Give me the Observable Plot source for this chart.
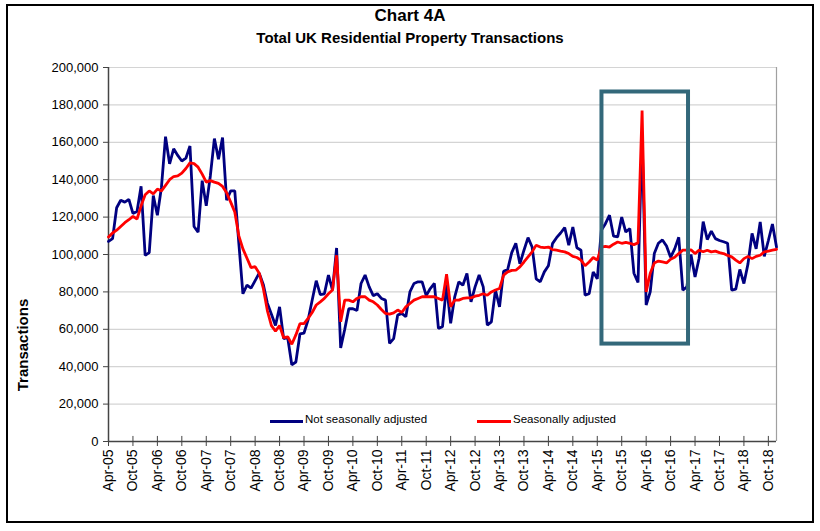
<!DOCTYPE html>
<html>
<head>
<meta charset="utf-8">
<script src="https://cdn.jsdelivr.net/npm/d3@7"></script>
<script src="https://cdn.jsdelivr.net/npm/@observablehq/plot@0.6"></script>
<style>
  html, body { margin: 0; padding: 0; background: #fff; }
  #wrap { position: relative; width: 820px; height: 531px; font-family: "Liberation Sans", Arial, sans-serif; color: #000; }
  .frame { position: absolute; left: 6px; top: 4px; width: 804px; height: 515px; border: 2px solid #000; }
  .title { position: absolute; left: 0; width: 820px; text-align: center; font-weight: bold; }
  #chart { position: absolute; left: 0; top: 50px; }
  .ytitle { position: absolute; left: 22px; top: 345px; transform: translate(-50%, -50%) rotate(-90deg); font-weight: bold; font-size: 15px; white-space: nowrap; }
  .leg { position: absolute; font-size: 11.5px; white-space: nowrap; }
  .sw { position: absolute; height: 3px; }
</style>
</head>
<body>
<div id="wrap">
  <div class="frame"></div>
  <div class="title" style="top:6px;font-size:17px;">Chart 4A</div>
  <div class="title" style="top:29px;font-size:15px;">Total UK Residential Property Transactions</div>
  <div id="chart"></div>
  <div class="ytitle">Transactions</div>
  <div class="sw" style="left:270px;top:420px;width:33px;background:#000080;"></div>
  <div class="leg" style="left:305px;top:413px;">Not seasonally adjusted</div>
  <div class="sw" style="left:477px;top:420px;width:34px;background:#ff0000;"></div>
  <div class="leg" style="left:513px;top:413px;">Seasonally adjusted</div>
</div>
<script>
// Monthly, Apr-05 ... Dec-18
const notSeasonallyAdjusted = [
  107000,108500,125000,129000,128000,129500,122000,123000,136500,99500,
  101000,131500,121000,136000,163000,148500,156500,153000,150000,151500,
  158000,115000,112000,139500,126000,142000,162000,151000,162500,129000,
  134000,134000,106000,79000,83600,82000,86000,90000,84000,74000,
  68000,62000,72000,55000,55500,41000,42500,57500,58000,65000,
  75500,86000,78500,79000,89000,81000,103500,50000,60000,71000,
  71000,70000,84500,89000,82700,78000,79000,76500,75600,52500,
  55000,67600,68500,66700,80000,84500,85400,85400,78000,81800,
  84500,60500,61400,83600,63200,77400,85400,83600,89800,74700,
  82700,89000,82700,62200,64000,81000,72000,91000,92000,101000,
  106000,95000,102300,109000,104000,87000,85400,90700,94000,105800,
  109000,111500,114400,105000,114700,103600,102300,78300,79000,90700,
  87000,113000,116500,121000,109800,109400,120000,112000,113900,90000,
  85000,163000,73000,80000,100500,106000,107800,104500,98500,103000,
  109200,81000,82700,100000,88000,98000,117600,108000,112500,108500,
  107500,106800,106000,81000,81500,92000,84500,95000,111300,103000,
  117400,99000,107500,116300,104000
];
const seasonallyAdjusted = [
  109300,111500,113000,115000,117000,118600,120400,119000,126000,132000,
  134000,132400,135000,134000,137000,140000,141700,142000,143500,146000,
  149000,148600,146700,143000,138700,139500,138700,138000,136400,133000,
  128000,122700,110000,103000,98000,93000,93500,90000,82000,70000,
  62000,59000,62000,55500,56000,52000,57000,63000,63000,65800,
  69000,73000,74700,76500,79000,81000,99600,64000,75600,75600,
  74700,76500,77400,77400,75600,74700,73000,70600,68500,68100,
  68800,70300,69000,72000,73800,75600,76500,77400,77400,77400,
  77400,76500,75600,89500,72000,75600,75600,76500,76800,76800,
  77700,78200,79000,78200,80000,81000,81800,89000,90700,91500,
  91600,93400,96000,98700,101400,105000,104000,103700,104000,102600,
  102300,101800,101400,100500,99000,98400,97000,94000,96000,98400,
  97000,104000,104400,104000,105500,106700,106000,106500,106000,105300,
  106200,177000,80000,90000,95500,96500,96000,95500,97500,98500,
  100500,102300,102300,102500,100500,102300,101500,102300,101400,101800,
  101000,100500,99500,98700,97000,95500,97800,99000,97800,99000,
  99600,101400,101800,102300,102800
];
const tickLabels = ["Apr-05","Oct-05","Apr-06","Oct-06","Apr-07","Oct-07","Apr-08","Oct-08",
  "Apr-09","Oct-09","Apr-10","Oct-10","Apr-11","Oct-11","Apr-12","Oct-12","Apr-13","Oct-13",
  "Apr-14","Oct-14","Apr-15","Oct-15","Apr-16","Oct-16","Apr-17","Oct-17","Apr-18","Oct-18"];
const yTicks = [0,20000,40000,60000,80000,100000,120000,140000,160000,180000,200000];
// highlighted period (months since Apr-05) and value range of the annotation box
const highlight = [{from: 121.15, to: 142.4, low: 52100, high: 186900}];

const nsaRows = notSeasonallyAdjusted.map((v, i) => ({i, v}));
const saRows = seasonallyAdjusted.map((v, i) => ({i, v}));
const tickIdx = tickLabels.map((_, k) => k * 6);
const lastIdx = notSeasonallyAdjusted.length - 1;

const chart = Plot.plot({
  width: 820,
  height: 481,
  marginTop: 17,
  marginLeft: 108,
  marginRight: 44,
  marginBottom: 90,
  style: {fontFamily: "'Liberation Sans', Arial, sans-serif", fontSize: "13px", color: "#000", background: "transparent", overflow: "visible"},
  x: {type: "linear", domain: [0, lastIdx]},
  y: {domain: [0, 200000]},
  marks: [
    Plot.gridY(yTicks, {stroke: "#d4d4d4", strokeOpacity: 1, strokeWidth: 1.2}),
    Plot.ruleX([lastIdx], {stroke: "#a0a0a0", strokeWidth: 1.2}),
    Plot.axisY(yTicks, {tickFormat: d3.format(","), tickSize: 5, tickPadding: 5, fontSize: 13, label: null, stroke: "#444"}),
    Plot.axisX(tickIdx, {tickFormat: d => tickLabels[d / 6], tickRotate: -90, tickSize: 5, tickPadding: 3, fontSize: 14, label: null, stroke: "#444"}),
    Plot.ruleX(tickIdx, {y1: 0, y2: 2700, stroke: "#444"}),
    Plot.ruleY([0], {stroke: "#444", strokeWidth: 1.5}),
    Plot.ruleX([0], {stroke: "#444", strokeWidth: 1.5}),
    Plot.line(nsaRows, {x: "i", y: "v", stroke: "#000080", strokeWidth: 2.8, strokeLinejoin: "miter"}),
    Plot.line(saRows, {x: "i", y: "v", stroke: "#ff0000", strokeWidth: 2.8, strokeLinejoin: "miter"}),
    Plot.rect(highlight, {x1: "from", x2: "to", y1: "low", y2: "high", fill: "none", stroke: "#33687a", strokeWidth: 4})
  ]
});
document.getElementById("chart").appendChild(chart);
</script>
</body>
</html>
